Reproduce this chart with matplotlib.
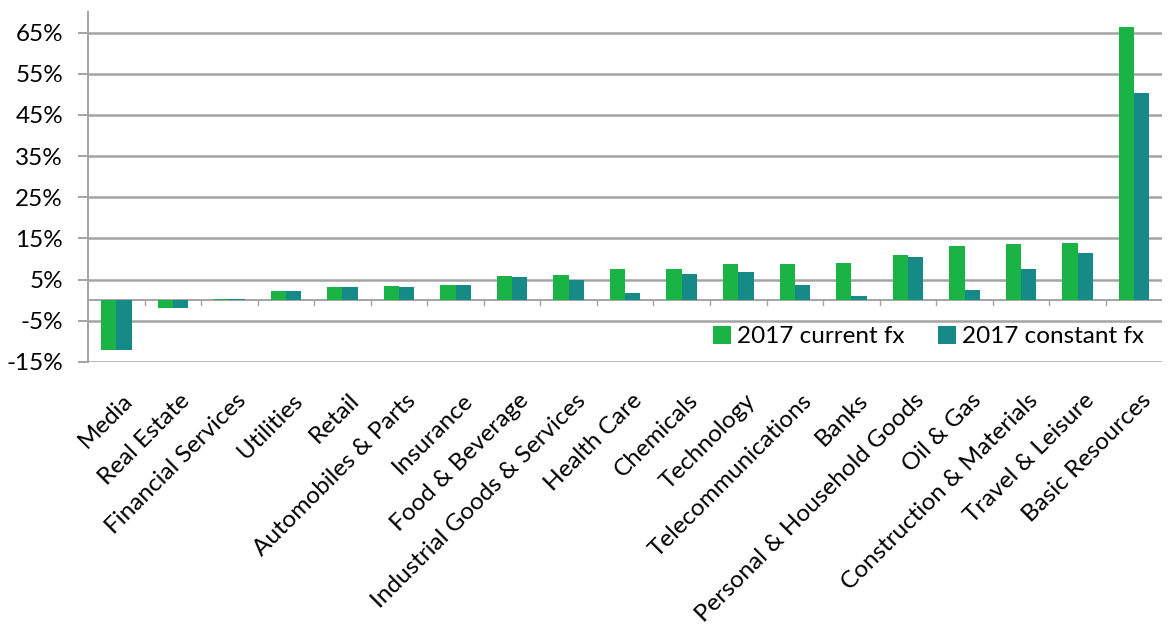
import matplotlib.pyplot as plt
import matplotlib.transforms as mtransforms
from matplotlib.ticker import FixedLocator, FuncFormatter
import numpy as np

# sectors, sorted by current fx change
sectors = ["Media", "Real Estate", "Financial Services", "Utilities", "Retail",
           "Automobiles & Parts", "Insurance", "Food & Beverage",
           "Industrial Goods & Services", "Health Care", "Chemicals", "Technology",
           "Telecommunications", "Banks", "Personal & Household Goods", "Oil & Gas",
           "Construction & Materials", "Travel & Leisure", "Basic Resources"]

current_fx = [-12.2, -1.8, 0.3, 2.2, 3.2, 3.4, 3.8, 5.8, 6.2, 7.5, 7.7, 8.7,
              8.7, 9.1, 11.1, 13.2, 13.6, 14.0, 66.3]
constant_fx = [-12.2, -2.0, 0.2, 2.2, 3.2, 3.3, 3.7, 5.7, 5.0, 1.8, 6.4, 6.9,
               3.8, 1.0, 10.6, 2.4, 7.5, 11.5, 50.2]

yticks = [-15, -5, 5, 15, 25, 35, 45, 55, 65]

plt.rcParams['font.family'] = ['Lato', 'DejaVu Sans']
plt.rcParams['axes.unicode_minus'] = False
fs = 17.5

fig = plt.figure(figsize=(11.73, 6.29), dpi=100)
ax = fig.add_axes([0.075, 0.4245, 0.916, 0.5565])

x = np.arange(len(sectors))
w = 0.27
green = "#19b445"
teal = "#168a87"
grey = "#a4a4a4"

ax.bar(x - w / 2, current_fx, w, color=green, label="2017 current fx", zorder=3)
ax.bar(x + w / 2, constant_fx, w, color=teal, label="2017 constant fx", zorder=3)

ax.set_xlim(-0.5, len(sectors) - 0.5)
ax.set_ylim(-15, 70)
ax.yaxis.set_major_locator(FixedLocator(yticks))
ax.yaxis.set_major_formatter(FuncFormatter(lambda v, p: f"{v:.0f}%"))
ax.grid(axis='y', color=grey, linewidth=1.8, zorder=0)

for s in ['top', 'right', 'bottom']:
    ax.spines[s].set_visible(False)
ax.spines['left'].set_color(grey)
ax.spines['left'].set_linewidth(1.4)

# zero line with small ticks between categories
ax.axhline(0, color=grey, linewidth=1.4, zorder=2)
for b in x[1:] - 0.5:
    ax.plot([b, b], [0, -1.2], color=grey, linewidth=1, zorder=2)

ax.tick_params(axis='y', length=7, width=1.4, color=grey, labelsize=fs, pad=11)
ax.set_xticks(x)
ax.set_xticklabels(sectors, rotation=45, ha='right', rotation_mode='anchor',
                   fontsize=fs)
ax.tick_params(axis='x', length=0, pad=20)
shift = mtransforms.ScaledTranslation(6 / 100, 0, fig.dpi_scale_trans)
for lab in ax.get_xticklabels():
    lab.set_transform(lab.get_transform() + shift)

ax.legend(loc='center right', bbox_to_anchor=(1 - 18 / 1075, 0.072), ncol=2,
          frameon=False, fontsize=fs, handlelength=0.74, handleheight=0.74,
          handletextpad=0.25, columnspacing=1.4, borderaxespad=0, borderpad=0)

fig.savefig("out.png", dpi=100)
